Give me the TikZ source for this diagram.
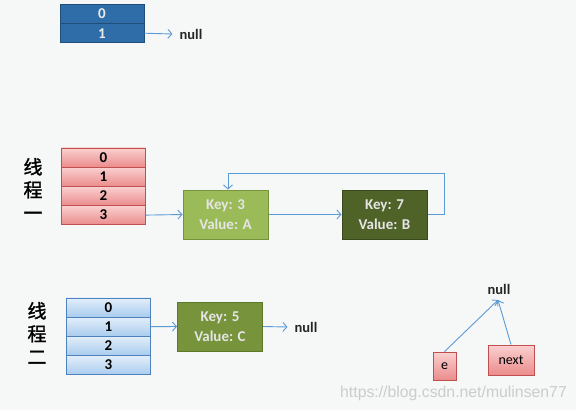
\documentclass[tikz,border=0pt]{standalone}
\usepackage{fontspec}
\setmainfont{Carlito}
\newfontfamily\cjk[FakeBold=1.5]{Noto Sans CJK SC}
\newfontfamily\wmfont{Liberation Sans}
\usetikzlibrary{arrows.meta}
\definecolor{arrowc}{HTML}{5B9BD5}
\definecolor{bluedark}{HTML}{2E6DA8}
\definecolor{blueborder}{HTML}{1F4E79}
\definecolor{redtop}{HTML}{FAD0D0}
\definecolor{redbot}{HTML}{EB8C8C}
\definecolor{redborder}{HTML}{C0504D}
\definecolor{bluetop}{HTML}{E2EEFA}
\definecolor{bluebot}{HTML}{A9CCEE}
\definecolor{blueb2}{HTML}{4F81BD}
\definecolor{glight}{HTML}{9BBB59}
\definecolor{glightb}{HTML}{77933C}
\definecolor{gdark}{HTML}{4F6228}
\definecolor{gdarkb}{HTML}{3A4A1C}
\definecolor{gmid}{HTML}{77933C}
\definecolor{gmidb}{HTML}{5A7A2A}
\definecolor{bg}{HTML}{F6F7F7}
\tikzset{
  cellbase/.style={draw, line width=0.8pt, minimum width=84pt, minimum height=19.2pt, inner sep=0pt, font=\bfseries\fontsize{15}{16}\selectfont, anchor=center},
  topcell/.style={cellbase, fill=bluedark, draw=blueborder, text=white!92!black},
  redcell/.style={cellbase, top color=redtop, bottom color=redbot, draw=redborder, text=black},
  bluecell/.style={cellbase, top color=bluetop, bottom color=bluebot, draw=blueb2, text=black},
  kvbox/.style={draw, line width=1pt, minimum width=85pt, minimum height=49pt, inner sep=0pt, align=center, font=\bfseries\fontsize{15}{20}\selectfont, text=white!90!black},
  ptr/.style={draw=arrowc, line width=0.9pt, -{Straight Barb[length=4pt,width=9pt]}},
  nulltxt/.style={font=\bfseries\fontsize{14.5}{15}\selectfont, text=black!85, inner xsep=7pt, inner ysep=1pt},
  thr/.style={font=\cjk\fontsize{19}{23}\selectfont, align=center, inner sep=0pt},
  small/.style={draw=redborder, line width=0.8pt, top color=redtop, bottom color=redbot, inner sep=0pt, font=\fontsize{14}{15}\selectfont}
}
\begin{document}
\begin{tikzpicture}[x=1pt,y=-1pt]
\fill[bg] (0,0) rectangle (576,410);
\useasboundingbox (0,0) rectangle (576,410);
% top array
\node[topcell] (t0) at (102,14) {0};
\node[topcell] (t1) at (102,33.2) {1};
\node[nulltxt] (tn) at (191,34) {null};
\draw[ptr] (t1.east) -- (tn.west);
% thread one
\node[thr] (l1) at (33,189) {线\\程\\一};
\node[redcell] (r0) at (103.5,157.5) {0};
\node[redcell] (r1) at (103.5,176.7) {1};
\node[redcell] (r2) at (103.5,195.9) {2};
\node[redcell] (r3) at (103.5,215.1) {3};
\node[kvbox, fill=glight, draw=glightb] (k3) at (225.5,214.5) {Key: 3\\Value: A};
\node[kvbox, fill=gdark, draw=gdarkb] (k7) at (384.5,214.5) {Key: 7\\Value: B};
\draw[ptr] (r3.east) -- (k3.west);
\draw[ptr] (k3.east) -- (k7.west);
\coordinate (c1) at (444,214.5);
\coordinate (c2) at (444,173);
\coordinate (c3) at (228,173);
\draw[ptr] (k7.east) -- (c1) -- (c2) -- (c3) -- (k3.north -| c3);
% thread two
\node[thr] (l2) at (37,333) {线\\程\\二};
\node[bluecell] (b0) at (108.5,307.5) {0};
\node[bluecell] (b1) at (108.5,326.7) {1};
\node[bluecell] (b2) at (108.5,345.9) {2};
\node[bluecell] (b3) at (108.5,365.1) {3};
\node[kvbox, fill=gmid, draw=gmidb] (k5) at (220,326.5) {Key: 5\\Value: C};
\node[nulltxt] (n2) at (306,327) {null};
\draw[ptr] (b1.east) -- (k5.west);
\draw[ptr] (k5.east) -- (n2.west);
% e / next
\node[nulltxt] (n3) at (499,289) {null};
\node[small, minimum width=23pt, minimum height=28pt] (e) at (444.5,366) {e};
\node[small, minimum width=46pt, minimum height=30pt] (nx) at (511,360) {next};
\coordinate (tipn) at (498,300);
\draw[ptr] (e.north) -- (tipn);
\draw[ptr] (nx.north) -- (tipn);
% watermark
\node[font=\wmfont\fontsize{15.8}{16}\selectfont, text=black!20, anchor=west, inner sep=0pt] (wm) at (340,393) {https://blog.csdn.net/mulinsen77};
\end{tikzpicture}
\end{document}
